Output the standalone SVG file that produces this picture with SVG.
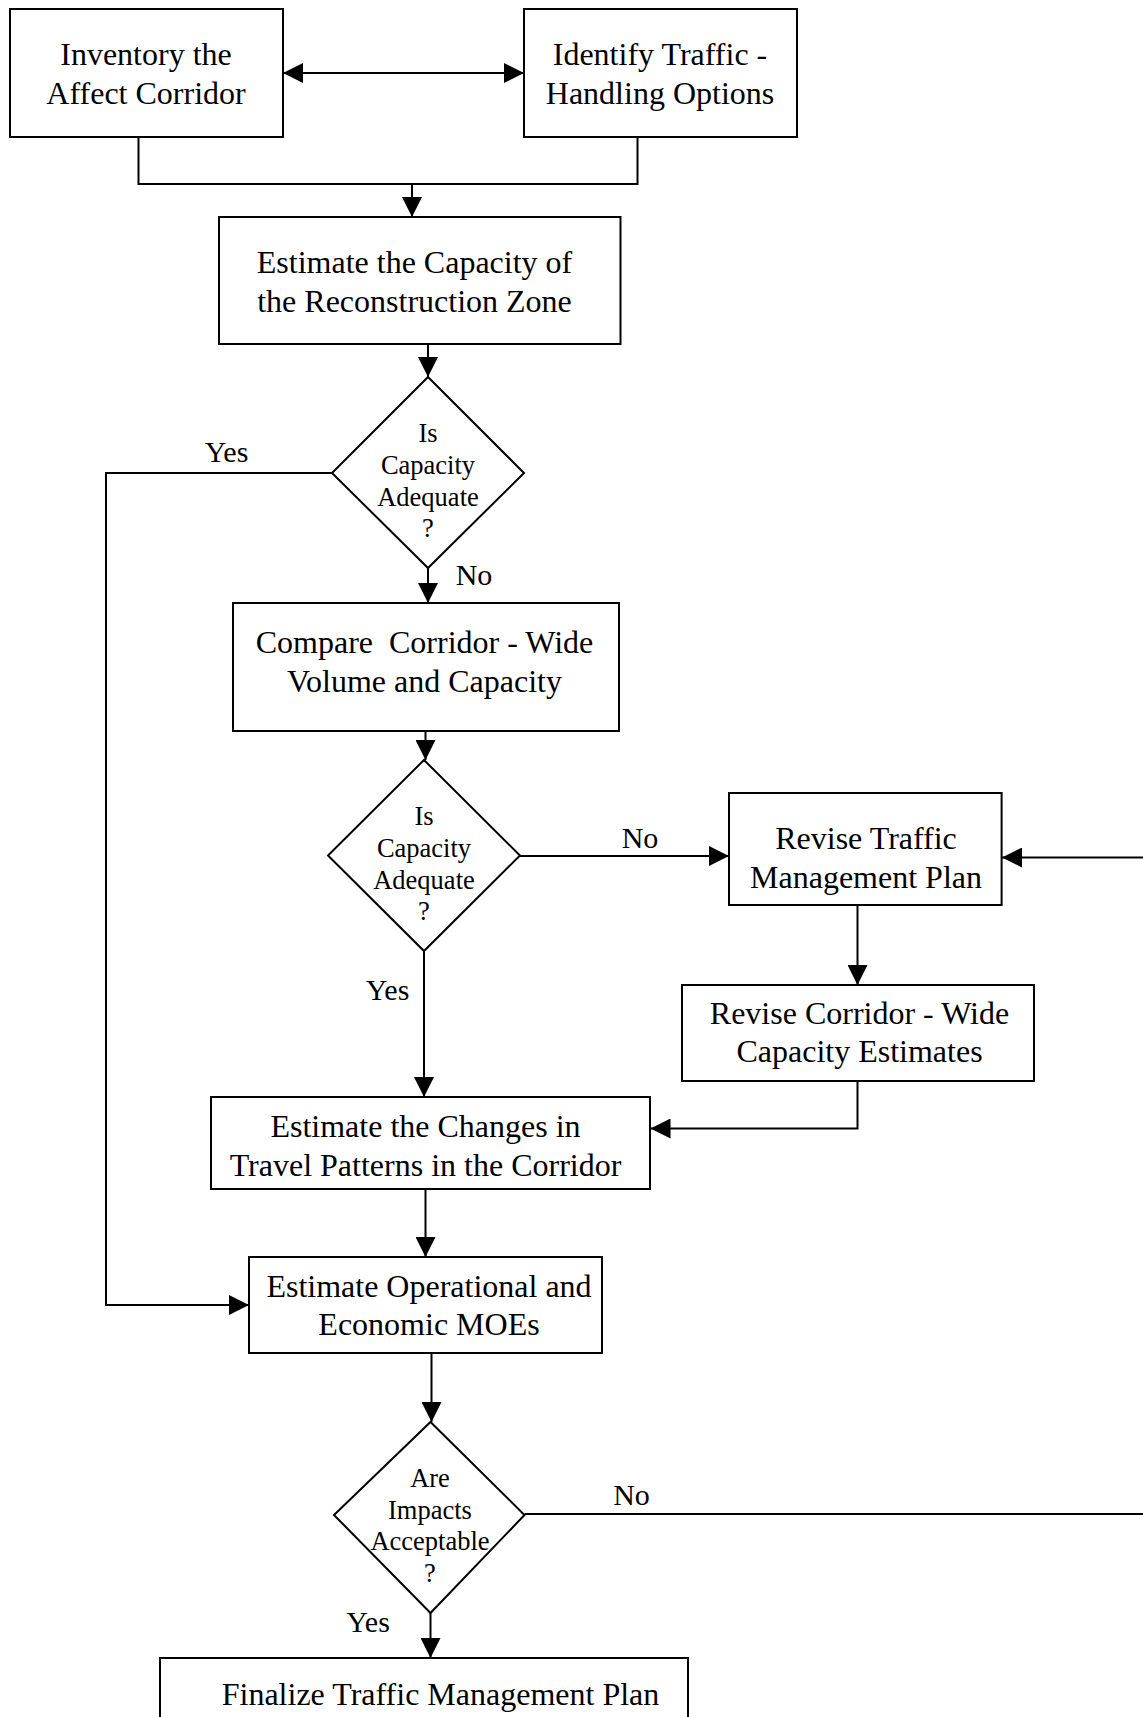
<svg xmlns="http://www.w3.org/2000/svg" width="1143" height="1717" viewBox="0 0 1143 1717">
  <defs>
    <marker id="arrow" viewBox="0 0 20 20" refX="20" refY="10" markerWidth="20" markerHeight="20" markerUnits="userSpaceOnUse" orient="auto-start-reverse">
      <path d="M0,0 L20,10 L0,20 z" fill="#000"/>
    </marker>
    <style>
      .box { fill: #fff; stroke: #000; stroke-width: 2; }
      .dia { fill: #fff; stroke: #000; stroke-width: 2; }
      .conn { fill: none; stroke: #000; stroke-width: 2; }
      .arr { marker-end: url(#arrow); }
      .t { font-family: "Liberation Serif", "Times New Roman", serif; font-size: 32px; fill: #000; text-anchor: middle; }
      .d { font-family: "Liberation Serif", "Times New Roman", serif; font-size: 26.5px; fill: #000; text-anchor: middle; }
      .lbl { font-family: "Liberation Serif", "Times New Roman", serif; font-size: 30px; fill: #000; text-anchor: middle; }
    </style>
  </defs>
  <rect width="1143" height="1717" fill="#fff"/>

  <!-- connectors -->
  <g id="connectors">
    <line class="conn" x1="283" y1="73" x2="524" y2="73" marker-start="url(#arrow)" marker-end="url(#arrow)"/>
    <path class="conn" d="M138.5,137 V184 H637.5 V137"/>
    <path class="conn arr" d="M412,184 V217"/>
    <path class="conn arr" d="M428,344 V377"/>
    <path class="conn arr" d="M332,473 H106 V1305 H249"/>
    <path class="conn arr" d="M428,568 V603"/>
    <path class="conn arr" d="M425.5,731 V760"/>
    <path class="conn arr" d="M520,856 H729"/>
    <path class="conn arr" d="M857.5,905 V985"/>
    <path class="conn arr" d="M857.5,1081 V1128.5 H650.5"/>
    <path class="conn arr" d="M424,951 V1097"/>
    <path class="conn arr" d="M425.5,1189 V1257"/>
    <path class="conn arr" d="M431.5,1353 V1422"/>
    <path class="conn arr" d="M524.5,1514 H1148 V857.5 H1002"/>
    <path class="conn arr" d="M430.5,1613 V1658"/>
    <text class="lbl" x="226.5" y="462">Yes</text>
    <text class="lbl" x="474" y="585">No</text>
    <text class="lbl" x="640" y="848">No</text>
    <text class="lbl" x="387.5" y="1000">Yes</text>
    <text class="lbl" x="631.5" y="1505">No</text>
    <text class="lbl" x="368" y="1632">Yes</text>
  </g>

  <g id="inventory">
    <rect class="box" x="10" y="9" width="273" height="128"/>
    <text class="t" x="146" y="65">Inventory the</text>
    <text class="t" x="146" y="104">Affect Corridor</text>
  </g>

  <g id="identify">
    <rect class="box" x="524" y="9" width="273" height="128"/>
    <text class="t" x="660" y="65">Identify Traffic -</text>
    <text class="t" x="660" y="104">Handling Options</text>
  </g>

  <g id="estimate-capacity">
    <rect class="box" x="219" y="217" width="401.5" height="127"/>
    <text class="t" x="414.5" y="273">Estimate the Capacity of</text>
    <text class="t" x="414.5" y="311.5">the Reconstruction Zone</text>
  </g>

  <g id="decision-1">
    <polygon class="dia" points="428,377 524,473 428,568 332,473"/>
    <text class="d" x="428" y="442">Is</text>
    <text class="d" x="428" y="474">Capacity</text>
    <text class="d" x="428" y="506">Adequate</text>
    <text class="d" x="428" y="537">?</text>
  </g>

  <g id="compare">
    <rect class="box" x="233" y="603" width="386" height="128"/>
    <text class="t" x="424.5" y="653" xml:space="preserve">Compare  Corridor - Wide</text>
    <text class="t" x="424.5" y="691.5">Volume and Capacity</text>
  </g>

  <g id="decision-2">
    <polygon class="dia" points="424,760 520,855.5 424,951 328,855.5"/>
    <text class="d" x="424" y="825">Is</text>
    <text class="d" x="424" y="857">Capacity</text>
    <text class="d" x="424" y="888.5">Adequate</text>
    <text class="d" x="424" y="920">?</text>
  </g>

  <g id="revise-plan">
    <rect class="box" x="729" y="793" width="272.6" height="112"/>
    <text class="t" x="866" y="849">Revise Traffic</text>
    <text class="t" x="866" y="888">Management Plan</text>
  </g>

  <g id="revise-estimates">
    <rect class="box" x="682" y="985" width="352" height="96"/>
    <text class="t" x="859.5" y="1023.5">Revise Corridor - Wide</text>
    <text class="t" x="859.5" y="1062">Capacity Estimates</text>
  </g>

  <g id="travel-patterns">
    <rect class="box" x="211" y="1097" width="439" height="92"/>
    <text class="t" x="425.5" y="1137">Estimate the Changes in</text>
    <text class="t" x="425.5" y="1176">Travel Patterns in the Corridor</text>
  </g>

  <g id="moes">
    <rect class="box" x="249" y="1257" width="353" height="96"/>
    <text class="t" x="429" y="1297">Estimate Operational and</text>
    <text class="t" x="429" y="1335">Economic MOEs</text>
  </g>

  <g id="decision-3">
    <polygon class="dia" points="430.5,1422 524.5,1515 430.5,1613 334,1515"/>
    <text class="d" x="430" y="1487">Are</text>
    <text class="d" x="430" y="1518.5">Impacts</text>
    <text class="d" x="430" y="1550">Acceptable</text>
    <text class="d" x="430" y="1582">?</text>
  </g>

  <g id="finalize">
    <rect class="box" x="160" y="1658" width="528" height="80"/>
    <text class="t" x="440.5" y="1705">Finalize Traffic Management Plan</text>
  </g>
</svg>
